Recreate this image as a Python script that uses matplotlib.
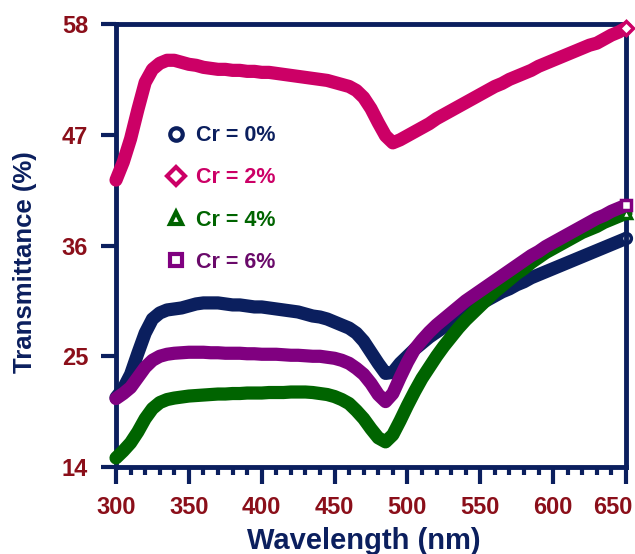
import numpy as np
import matplotlib
matplotlib.use("Agg")
import matplotlib.pyplot as plt
import matplotlib.transforms as mtransforms
from matplotlib.lines import Line2D
from matplotlib.ticker import MultipleLocator

plt.rcParams['font.family'] = ['Liberation Sans', 'DejaVu Sans']
plt.rcParams['font.weight'] = 'bold'

# wavelength grid (nm), 5 nm step
wavelength = list(range(300, 651, 5))

cr0 = [20.9, 21.8, 23.2, 25.3, 27.3, 28.7, 29.3, 29.6, 29.7, 29.8,
       30.0, 30.2, 30.3, 30.3, 30.3, 30.2, 30.1, 30.1, 30.0, 29.9,
       29.9, 29.8, 29.7, 29.6, 29.5, 29.4, 29.2, 29.0, 28.9, 28.7,
       28.4, 28.1, 27.8, 27.3, 26.5, 25.4, 24.3, 23.3, 23.4, 24.3,
       25.0, 25.7, 26.3, 26.9, 27.4, 27.9, 28.4, 28.9, 29.4, 29.8,
       30.2, 30.6, 31.0, 31.4, 31.7, 32.1, 32.4, 32.8, 33.1, 33.4,
       33.7, 34.0, 34.3, 34.6, 34.9, 35.2, 35.5, 35.8, 36.1, 36.4,
       36.7]

cr2 = [42.5, 44.3, 46.6, 49.5, 52.2, 53.5, 54.1, 54.4, 54.4, 54.2,
       54.0, 53.9, 53.7, 53.6, 53.5, 53.5, 53.4, 53.4, 53.3, 53.3,
       53.2, 53.2, 53.1, 53.0, 52.9, 52.8, 52.7, 52.6, 52.5, 52.4,
       52.2, 52.0, 51.8, 51.4, 50.7, 49.6, 48.2, 46.9, 46.2, 46.5,
       46.9, 47.3, 47.7, 48.1, 48.6, 49.0, 49.4, 49.8, 50.2, 50.6,
       51.0, 51.4, 51.8, 52.1, 52.5, 52.8, 53.1, 53.4, 53.8, 54.1,
       54.4, 54.7, 55.0, 55.3, 55.6, 55.9, 56.1, 56.5, 56.9, 57.2,
       57.6]

cr4 = [14.9, 15.6, 16.4, 17.5, 18.8, 19.8, 20.4, 20.7, 20.85, 20.95,
       21.05, 21.1, 21.15, 21.2, 21.25, 21.25, 21.3, 21.3, 21.35, 21.35,
       21.35, 21.4, 21.4, 21.4, 21.45, 21.45, 21.45, 21.4, 21.3, 21.2,
       21.0, 20.7, 20.3, 19.6, 18.8, 17.8, 16.9, 16.5, 17.2, 18.6,
       20.1, 21.5, 22.8, 23.9, 25.0, 26.0, 26.9, 27.8, 28.6, 29.3,
       30.0, 30.7, 31.4, 32.0, 32.6, 33.2, 33.7, 34.3, 34.8, 35.3,
       35.7, 36.1, 36.5, 36.9, 37.3, 37.6, 37.9, 38.3, 38.6, 38.9,
       39.2]

cr6 = [20.8, 21.3, 21.9, 22.9, 23.9, 24.6, 25.0, 25.2, 25.3, 25.35,
       25.4, 25.4, 25.4, 25.35, 25.35, 25.3, 25.3, 25.3, 25.25, 25.25,
       25.2, 25.2, 25.2, 25.15, 25.1, 25.1, 25.05, 25.0, 25.0, 24.9,
       24.8, 24.6, 24.3, 23.8, 23.2, 22.3, 21.2, 20.5, 21.3, 22.9,
       24.4, 25.7, 26.6, 27.4, 28.1, 28.7, 29.3, 29.9, 30.5, 31.0,
       31.5, 32.0, 32.5, 33.0, 33.5, 34.0, 34.5, 35.0, 35.4, 35.9,
       36.3, 36.7, 37.1, 37.5, 37.9, 38.3, 38.7, 39.0, 39.4, 39.7,
       40.0]

labels = ['Cr = 0%', 'Cr = 2%', 'Cr = 4%', 'Cr = 6%']
colors = ['#0b1f5e', '#cc0066', '#006400', '#800080']
text_colors = ['#0b1f5e', '#cc0066', '#006400', '#6a0a6a']
markers = ['o', 'D', '^', 's']
yticks = [14, 25, 36, 47, 58]

navy = '#0b1f5e'
tick_red = '#8b0f1a'

fig = plt.figure(figsize=(6.35, 5.54), dpi=100)
ax = fig.add_axes([0.1827, 0.157, 0.803, 0.7996])

x = np.array(wavelength)
series = [cr0, cr2, cr4, cr6]
zorders = [2, 3, 3, 4]
for y, c, m, z in zip(series, colors, markers, zorders):
    ax.plot(x, y, color=c, lw=9.5, solid_capstyle='round',
            solid_joinstyle='round', zorder=z, clip_on=False)
    # open marker at the last point
    ax.plot(x[-1], y[-1], ls='none', marker=m, ms=7, mfc='white', mec=c,
            mew=2.5, zorder=z + 0.5, clip_on=False)

ax.set_xlim(300, 650)
ax.set_ylim(14, 58)
ax.set_yticks(yticks)
ax.xaxis.set_major_locator(MultipleLocator(50))
ax.xaxis.set_minor_locator(MultipleLocator(10))

for s in ax.spines.values():
    s.set_color(navy)
    s.set_linewidth(3.5)

ax.tick_params(axis='both', which='major', direction='out', color=navy,
               width=3, labelsize=17, labelcolor=tick_red, pad=9)
ax.tick_params(axis='x', which='major', length=12)
ax.tick_params(axis='y', which='major', length=11)
ax.tick_params(axis='x', which='minor', direction='out', color=navy,
               width=3, length=6)

ax.set_xlabel('Wavelength (nm)', fontsize=21, fontweight='bold', color=navy)
ax.xaxis.set_label_coords(0.485, -0.135)
ax.set_ylabel('Transmittance (%)', fontsize=18.5, fontweight='bold', color=navy)
ax.yaxis.set_label_coords(-0.155, 0.463)

handles = [Line2D([], [], ls='none', marker=m, ms=9, mfc='none', mec=c, mew=3)
           for m, c in zip(markers, colors)]
leg = ax.legend(handles, labels, loc='upper left', bbox_to_anchor=(0.062, 0.815),
                frameon=False, labelspacing=0.98,
                handlelength=0.8, handletextpad=0.55, labelcolor=text_colors,
                prop={'weight': 'bold', 'size': 15.5})

fig.canvas.draw()
for lab in ax.get_xticklabels() + ax.get_yticklabels():
    lab.set_fontweight('bold')
# keep the last x tick label inside the figure
last = [t for t in ax.xaxis.get_major_ticks() if abs(t.get_loc() - 650) < 1e-6][0]
last.label1.set_transform(last.label1.get_transform() +
                          mtransforms.ScaledTranslation(-0.13, 0, fig.dpi_scale_trans))

fig.savefig('out.png', dpi=100)
